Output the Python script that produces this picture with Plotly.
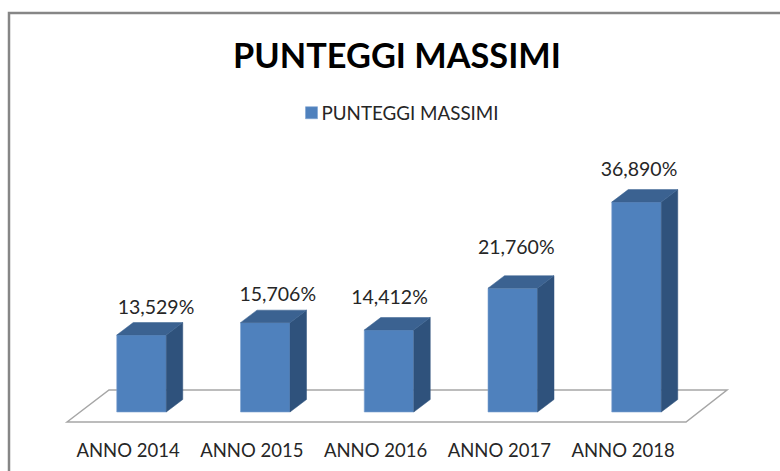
import plotly.graph_objects as go

categories = ["ANNO 2014", "ANNO 2015", "ANNO 2016", "ANNO 2017", "ANNO 2018"]
values = [13.529, 15.706, 14.412, 21.760, 36.890]
labels = ["13,529%", "15,706%", "14,412%", "21,760%", "36,890%"]
series_name = "PUNTEGGI MASSIMI"

W, H = 780, 471
BOTTOM = 41
PX_X = 123.75
PX_Y = 5.69
X0_PX = 141.5
BASE_PX = 412.0

def xd(px):
    return (px - X0_PX) / PX_X

def yd(px):
    return (BASE_PX - px) / PX_Y

pos = list(range(len(categories)))
BAR = 49.5 / PX_X
DX = 16.5 / PX_X
DY = 12.5 / PX_Y
TICK_SHIFT = 13.5 / PX_X

FRONT, SIDE, TOP = "#4F81BD", "#2F527C", "#3B6291"

# Hand-placed label offsets, in pixels, relative to the front top-centre of each bar
label_dx = [14.5, 12.5, 0.5, 3.5, 2.5]
label_dy = [26, 27, 31, 39, 31]

fig = go.Figure()

# front faces
fig.add_trace(go.Bar(x=pos, y=values, width=BAR, name=series_name,
                     marker=dict(color=FRONT, line=dict(color="#7DA3D1", width=0.6))))

# side and top faces follow the values
for p, v in zip(pos, values):
    r = p + BAR / 2
    l = p - BAR / 2
    fig.add_trace(go.Scatter(x=[r, r + DX, r + DX, r, r], y=[0, DY, v + DY, v, 0],
                             mode="lines", fill="toself", fillcolor=SIDE,
                             line=dict(color=SIDE, width=0.5), showlegend=False, hoverinfo="skip"))
    fig.add_trace(go.Scatter(x=[l, l + DX, r + DX, r, l], y=[v, v + DY, v + DY, v, v],
                             mode="lines", fill="toself", fillcolor=TOP,
                             line=dict(color=TOP, width=0.5), showlegend=False, hoverinfo="skip"))

# data labels
fig.add_trace(go.Scatter(
    x=[p + dx / PX_X for p, dx in zip(pos, label_dx)],
    y=[v + dy / PX_Y for v, dy in zip(values, label_dy)],
    mode="text", text=labels, textposition="middle center",
    textfont=dict(family="Lato", size=19.5, color="#262626"),
    showlegend=False, hoverinfo="skip"))

floor_path = (f"M {xd(67)} {yd(422)} L {xd(109)} {yd(390)} L {xd(727)} {yd(390)} "
              f"L {xd(686)} {yd(422)} Z")

fig.update_layout(
    width=W, height=H,
    margin=dict(l=0, r=0, t=0, b=BOTTOM, autoexpand=False),
    paper_bgcolor="white", plot_bgcolor="white",
    title=dict(text="<b>PUNTEGGI MASSIMI</b>", x=397 / W, xanchor="center",
               y=1 - 56 / H, yanchor="middle",
               font=dict(family="Lato", size=34.3, color="black")),
    legend=dict(x=403 / W, xanchor="center", y=1 - 113 / (H - BOTTOM), yanchor="middle",
                orientation="h", bgcolor="rgba(0,0,0,0)",
                font=dict(family="Lato", size=18.8, color="#262626")),
    xaxis=dict(range=[xd(0), xd(W)], tickmode="array",
               tickvals=[p - TICK_SHIFT for p in pos], ticktext=categories,
               showgrid=False, zeroline=False, showline=False, ticks="",
               ticklabelstandoff=7,
               tickfont=dict(family="Lato", size=18.5, color="#262626")),
    yaxis=dict(range=[yd(H - BOTTOM), yd(0)], visible=False),
    shapes=[
        dict(type="path", xref="x", yref="y", layer="below", path=floor_path,
             line=dict(color="#A6A6A6", width=1.5)),
        dict(type="path", xref="paper", yref="paper", layer="below",
             path=f"M {9/W} {-BOTTOM/(H-BOTTOM)} L {9/W} {1 - 13/(H-BOTTOM)} L 1 {1 - 13/(H-BOTTOM)}",
             line=dict(color="#868686", width=2.5)),
    ],
)

fig.write_html("out.html", config={"displayModeBar": False}, post_script=(
    "document.body.style.margin='0';"
    "document.querySelectorAll('.legendtext').forEach(function(t){t.setAttribute('x','30');});"
))
